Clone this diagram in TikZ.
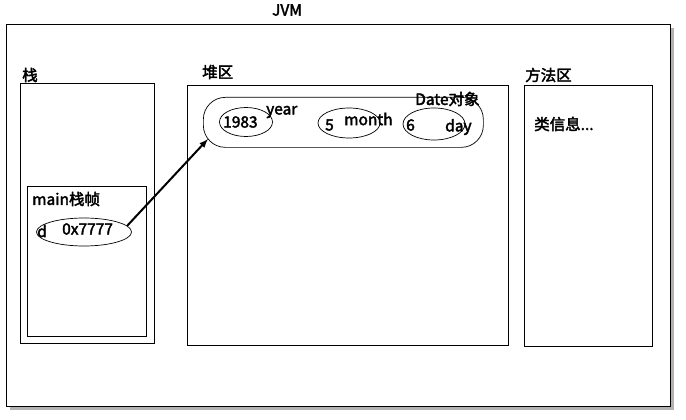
\documentclass[tikz,border=0pt]{standalone}
\usepackage{fontspec}
\setmainfont{Noto Sans CJK SC}[AutoFakeBold=2.5]
\usetikzlibrary{shapes.geometric}
\tikzset{
  area/.style={draw, line width=0.8pt},
  lbl/.style={font=\fontsize{15.5}{17}\selectfont\bfseries, inner sep=0pt, anchor=west},
  cell/.style={draw, ellipse, line width=0.7pt}
}
\begin{document}
\begin{tikzpicture}[x=1pt,y=-1pt]
  \useasboundingbox (0,0) rectangle (686,420);
  % shadow and outer box
  \fill[gray!60] (10,28) rectangle (674,410);
  \node[area, fill=white, minimum width=664pt, minimum height=382pt, anchor=north west, inner sep=0pt] (jvm) at (6,24) {};
  \node[lbl, anchor=center] (jvmlbl) at (287,10) {JVM};
  % stack
  \node[area, minimum width=134pt, minimum height=260pt, anchor=north west, inner sep=0pt] (stack) at (20,83) {};
  \node[lbl] (stacklbl) at (22,75) {栈};
  \node[area, minimum width=119pt, minimum height=150pt, anchor=north west, inner sep=0pt] (frame) at (27,186) {};
  \node[lbl] (framelbl) at (32,199) {main栈帧};
  \node[cell, minimum width=95pt, minimum height=28pt] (ref) at (84,232) {};
  \node[lbl] (dlbl) at (37,231) {d};
  \node[lbl] (addr) at (62,229) {0x7777};
  % heap
  \node[area, minimum width=321pt, minimum height=260pt, anchor=north west, inner sep=0pt] (heap) at (187,85) {};
  \node[lbl] (heaplbl) at (202,72) {堆区};
  \node[draw, line width=0.7pt, rounded corners=22pt, minimum width=280pt, minimum height=50pt, anchor=north west, inner sep=0pt] (date) at (203,97) {};
  \node[lbl] (datelbl) at (415,99) {Date对象};
  \node[cell, minimum width=53pt, minimum height=29pt] (year) at (246,122) {};
  \node[lbl] (yearv) at (223,122) {1983};
  \node[lbl] (yearlbl) at (266,112) {year};
  \node[cell, minimum width=62pt, minimum height=30pt] (month) at (349,123) {};
  \node[lbl] (monthv) at (325,125) {5};
  \node[lbl] (monthlbl) at (344,119) {month};
  \node[cell, minimum width=62pt, minimum height=32pt] (day) at (434,124) {};
  \node[lbl] (dayv) at (406,125) {6};
  \node[lbl] (daylbl) at (445,127) {day};
  % method area
  \node[area, minimum width=128pt, minimum height=261pt, anchor=north west, inner sep=0pt] (method) at (524,85) {};
  \node[lbl] (methodlbl) at (525,75) {方法区};
  \node[lbl] (classinfo) at (534,124) {类信息...};
  % reference
  \coordinate (src) at (127,226);
  \coordinate (dst) at (208,139);
  \draw[-latex, line width=2pt] (src) -- (dst);
\end{tikzpicture}
\end{document}
